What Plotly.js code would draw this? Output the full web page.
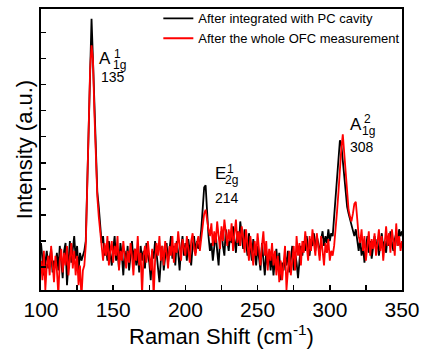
<!DOCTYPE html>
<html>
<head>
<meta charset="utf-8">
<script src="https://cdn.plot.ly/plotly-3.0.1.min.js"></script>
<style>
  html, body { margin: 0; padding: 0; background: #fff; }
  #chart { width: 423px; height: 358px; }
</style>
</head>
<body>
<div id="chart"></div>
<script>
// Raman shift grid (cm^-1): 100 to 350, 1 cm^-1 step
const shiftStart = 100;
const shiftStep = 1;

// Intensity (a.u.) after integration with PC cavity (black)
const pcCavity = [
  48,30,15,28,40,22,35,42,18,30,
  25,38,20,45,30,12,40,48,5,35,
  50,28,40,55,32,45,20,38,30,35,
  40,50,110,170,235,277,235,185,135,100,
  85,70,48,55,35,45,30,50,38,25,
  42,55,30,40,22,48,35,15,40,28,
  45,20,35,50,30,42,25,38,18,45,
  30,40,22,48,35,28,10,40,32,50,
  38,25,8,30,45,20,35,48,28,42,
  55,32,45,25,50,38,20,42,55,35,
  48,30,52,40,25,45,55,38,50,42,
  48,62,88,105,107,80,55,40,48,30,
  45,58,40,25,52,60,45,35,62,50,
  40,58,48,65,52,38,60,45,70,55,
  42,62,50,35,58,45,30,52,40,25,
  45,35,20,48,30,15,40,25,38,20,
  35,15,30,42,22,38,10,28,20,35,
  25,40,18,32,45,20,38,28,12,30,
  45,35,50,40,55,42,35,52,45,58,
  40,55,48,35,52,60,45,55,48,62,
  50,58,55,75,95,115,135,153,148,130,
  115,100,85,78,72,68,60,55,62,48,
  40,52,35,45,28,42,55,38,50,32,
  45,55,40,52,35,48,58,42,50,38,
  55,45,60,48,40,52,58,45,62,55,
  60
];

// Intensity (a.u.) after the whole OFC measurement (red)
const afterOFC = [
  30,10,40,0,25,35,15,45,28,8,
  35,20,-5,30,42,18,38,25,45,15,
  32,48,22,40,15,35,5,25,-8,20,
  25,45,105,165,225,250,235,180,130,95,
  75,60,40,30,48,35,55,25,40,50,
  28,45,35,55,20,40,30,50,35,22,
  40,28,48,35,15,42,30,55,25,38,
  -5,35,45,28,50,38,20,42,-8,30,
  48,35,55,30,45,25,50,38,22,45,
  35,55,28,48,38,60,42,30,52,45,
  35,55,40,28,50,58,42,35,48,55,
  40,52,68,78,82,70,62,55,68,45,
  60,48,70,55,42,65,50,72,58,45,
  62,50,68,40,58,72,48,60,45,65,
  55,38,62,48,30,55,42,25,50,35,
  58,40,25,45,60,35,50,20,42,30,
  48,25,40,15,35,8,30,10,28,45,
  0,25,40,15,30,45,20,55,35,48,
  25,50,38,60,45,30,55,40,62,48,
  35,58,45,30,55,42,25,48,38,52,
  30,40,35,45,60,80,100,125,145,159,
  140,115,95,82,75,70,78,88,90,70,
  55,48,62,40,55,30,48,60,35,52,
  42,58,35,50,62,40,55,30,48,65,
  45,58,38,62,50,35,68,45,55,40,
  50
];

const seriesNames = ['After integrated with PC cavity', 'After the whole OFC measurement'];

// Peak labels
const peakLetters = ['A', 'E', 'A'];
const peakSups = ['1', '1', '2'];
const peakSubs = ['1g', '2g', '1g'];
const peakPositions = ['135', '214', '308'];

const shifts = pcCavity.map((_, i) => shiftStart + i * shiftStep);

const FONT = 'Arial, "Liberation Sans", sans-serif';

const traces = [
  { x: shifts, y: pcCavity, type: 'scatter', mode: 'lines', name: seriesNames[0],
    line: { color: '#000000', width: 1.8 } },
  { x: shifts, y: afterOFC, type: 'scatter', mode: 'lines', name: seriesNames[1],
    line: { color: '#ff0000', width: 1.8 } }
];

// label placement (data coords)
const labelPos = [
  { x: 139.0, yL: 236, xs: 149.0, ySup: 241.5, xb: 148.3, ySub: 230, xn: 140.0, yN: 218 },
  { x: 219.1, yL: 119, xs: 227.4, ySup: 123.5, xb: 225.8, ySub: 112.5, xn: 219.1, yN: 94 },
  { x: 312.6, yL: 169, xs: 322.1, ySup: 175, xb: 320.9, ySub: 162.5, xn: 312.6, yN: 146 }
];

const annotations = [];
labelPos.forEach((p, i) => {
  const common = { xref: 'x', yref: 'y', showarrow: false, xanchor: 'left', yanchor: 'middle' };
  annotations.push(Object.assign({}, common, { x: p.x, y: p.yL, text: peakLetters[i], font: { family: FONT, size: 17, color: '#000' } }));
  annotations.push(Object.assign({}, common, { x: p.xs, y: p.ySup, text: peakSups[i], font: { family: FONT, size: 12, color: '#000' } }));
  annotations.push(Object.assign({}, common, { x: p.xb, y: p.ySub, text: peakSubs[i], font: { family: FONT, size: 12, color: '#000' } }));
  annotations.push(Object.assign({}, common, { x: p.xn, y: p.yN, text: peakPositions[i], font: { family: FONT, size: 14, color: '#000' } }));
});

const layout = {
  width: 423, height: 358,
  margin: { l: 41, r: 21, t: 3, b: 68 },
  paper_bgcolor: '#fff', plot_bgcolor: '#fff',
  font: { family: FONT, color: '#000' },
  showlegend: true,
  legend: {
    x: 0.325, xanchor: 'left', y: 1.02, yanchor: 'top',
    bgcolor: 'rgba(0,0,0,0)', borderwidth: 0,
    font: { family: FONT, size: 13, color: '#000' },
    tracegroupgap: 0
  },
  xaxis: {
    range: [100, 350],
    tickmode: 'linear', tick0: 100, dtick: 50,
    ticks: 'inside', ticklen: 5, tickwidth: 1.5, tickcolor: '#000',
    minor: { dtick: 25, ticks: 'inside', ticklen: 5, tickwidth: 1.5, tickcolor: '#000' },
    showline: true, linecolor: '#000', linewidth: 2, mirror: true,
    showgrid: false, zeroline: false,
    tickfont: { family: FONT, size: 21, color: '#000' },
    title: { text: 'Raman Shift (cm<sup>-1</sup>)', font: { family: FONT, size: 22, color: '#000' }, standoff: 4 }
  },
  yaxis: {
    range: [0, 287],
    tickmode: 'linear', tick0: 50, dtick: 26.65,
    ticks: 'inside', ticklen: 5, tickwidth: 1.5, tickcolor: '#000',
    showticklabels: false,
    showline: true, linecolor: '#000', linewidth: 2, mirror: true,
    showgrid: false, zeroline: false,
    title: { text: 'Intensity (a.u.)', font: { family: FONT, size: 22, color: '#000' }, standoff: 0 }
  },
  annotations: annotations
};

Plotly.newPlot('chart', traces, layout, { displayModeBar: false, staticPlot: true });
</script>
</body>
</html>
